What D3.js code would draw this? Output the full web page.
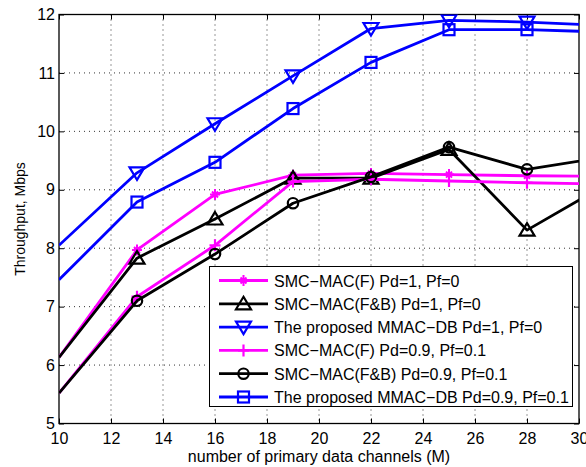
<!DOCTYPE html>
<html>
<head>
<meta charset="utf-8">
<script src="https://cdn.jsdelivr.net/npm/d3@7"></script>
<style>
  body { margin: 0; background: #fff; }
  svg { display: block; font-family: "Liberation Sans", Arial, sans-serif; }
</style>
</head>
<body>
<svg id="chart" width="586" height="467"></svg>
<script>
// Number of primary data channels (M)
const channels = [10, 13, 16, 19, 22, 25, 28, 31];

// Throughput (Mbps) for each scheme
const smcF_pd1      = [6.13, 7.97, 8.92, 9.25, 9.28, 9.26, 9.24, 9.23];
const smcFB_pd1     = [6.13, 7.83, 8.50, 9.20, 9.20, 9.69, 8.31, 9.08];
const mmacDB_pd1    = [8.05, 9.29, 10.13, 10.95, 11.76, 11.90, 11.87, 11.81];
const smcF_pd09     = [5.52, 7.17, 8.05, 9.14, 9.18, 9.15, 9.12, 9.10];
const smcFB_pd09    = [5.52, 7.10, 7.90, 8.77, 9.22, 9.73, 9.35, 9.56];
const mmacDB_pd09   = [7.46, 8.79, 9.47, 10.39, 11.18, 11.74, 11.74, 11.70];

const seriesNames = [
  "SMC\u2212MAC(F) Pd=1, Pf=0",
  "SMC\u2212MAC(F&B) Pd=1, Pf=0",
  "The proposed MMAC\u2212DB Pd=1, Pf=0",
  "SMC\u2212MAC(F) Pd=0.9, Pf=0.1",
  "SMC\u2212MAC(F&B) Pd=0.9, Pf=0.1",
  "The proposed MMAC\u2212DB Pd=0.9, Pf=0.1"
];
const seriesValues = [smcF_pd1, smcFB_pd1, mmacDB_pd1, smcF_pd09, smcFB_pd09, mmacDB_pd09];
const seriesColors = ["#ff00ff", "#000000", "#0000ff", "#ff00ff", "#000000", "#0000ff"];
const seriesMarkers = ["asterisk", "triangleUp", "triangleDown", "plus", "circle", "square"];

const xTicks = [10, 12, 14, 16, 18, 20, 22, 24, 26, 28, 30];
const yTicks = [5, 6, 7, 8, 9, 10, 11, 12];

const margin = { left: 59, top: 14.5, right: 579, bottom: 423.5 };
const svg = d3.select("#chart");

const x = d3.scaleLinear().domain([10, 30]).range([margin.left, margin.right]);
const y = d3.scaleLinear().domain([5, 12]).range([margin.bottom, margin.top]);

// clip region for the data
svg.append("defs").append("clipPath").attr("id", "plotClip")
  .append("rect")
  .attr("x", margin.left).attr("y", margin.top)
  .attr("width", margin.right - margin.left)
  .attr("height", margin.bottom - margin.top);

// dotted grid
const grid = svg.append("g");
grid.selectAll(".vg").data(xTicks.slice(1, -1)).join("line")
  .attr("x1", d => x(d)).attr("x2", d => x(d))
  .attr("y1", margin.top).attr("y2", margin.bottom)
  .attr("stroke", "#333").attr("stroke-width", 1).attr("stroke-dasharray", "1,4");
grid.selectAll(".hg").data(yTicks.slice(1, -1)).join("line")
  .attr("y1", d => y(d)).attr("y2", d => y(d))
  .attr("x1", margin.left).attr("x2", margin.right)
  .attr("stroke", "#333").attr("stroke-width", 1).attr("stroke-dasharray", "1,4");

// axes with inward ticks on all four sides
const tickLen = 5;
const fmt = d3.format("d");
const axB = svg.append("g").attr("transform", `translate(0,${margin.bottom})`)
  .call(d3.axisBottom(x).tickValues(xTicks).tickFormat(fmt).tickSizeInner(-tickLen).tickSizeOuter(0).tickPadding(9));
const axT = svg.append("g").attr("transform", `translate(0,${margin.top})`)
  .call(d3.axisTop(x).tickValues(xTicks).tickSizeInner(-tickLen).tickSizeOuter(0).tickFormat(""));
const axL = svg.append("g").attr("transform", `translate(${margin.left},0)`)
  .call(d3.axisLeft(y).tickValues(yTicks).tickFormat(fmt).tickSizeInner(-tickLen).tickSizeOuter(0).tickPadding(4));
const axR = svg.append("g").attr("transform", `translate(${margin.right},0)`)
  .call(d3.axisRight(y).tickValues(yTicks).tickSizeInner(-tickLen).tickSizeOuter(0).tickFormat(""));
[axB, axT, axL, axR].forEach(a => {
  a.select(".domain").remove();
  a.selectAll(".tick line").attr("stroke", "#000").attr("stroke-width", 1);
  a.selectAll("text").attr("fill", "#000").style("font-size", "16px")
    .style("font-family", "'Liberation Sans', Arial, sans-serif");
});

// frame
svg.append("rect")
  .attr("x", margin.left).attr("y", margin.top)
  .attr("width", margin.right - margin.left).attr("height", margin.bottom - margin.top)
  .attr("fill", "none").attr("stroke", "#000").attr("stroke-width", 1.3);

// marker drawing
function drawMarker(g, type, cx, cy, color) {
  if (type === "triangleUp") {
    g.append("path").attr("d", `M${cx},${cy - 7}L${cx + 7.5},${cy + 5.5}L${cx - 7.5},${cy + 5.5}Z`)
      .attr("fill", "none").attr("stroke", color).attr("stroke-width", 2.2);
  } else if (type === "triangleDown") {
    g.append("path").attr("d", `M${cx},${cy + 7}L${cx + 7.5},${cy - 5.5}L${cx - 7.5},${cy - 5.5}Z`)
      .attr("fill", "none").attr("stroke", color).attr("stroke-width", 2.2);
  } else if (type === "circle") {
    g.append("circle").attr("cx", cx).attr("cy", cy).attr("r", 5.2)
      .attr("fill", "none").attr("stroke", color).attr("stroke-width", 2.2);
  } else if (type === "square") {
    g.append("rect").attr("x", cx - 5.5).attr("y", cy - 5.5).attr("width", 11).attr("height", 11)
      .attr("fill", "none").attr("stroke", color).attr("stroke-width", 2.2);
  } else if (type === "plus") {
    g.append("path").attr("d", `M${cx - 5.5},${cy}H${cx + 5.5}M${cx},${cy - 6}V${cy + 6}`)
      .attr("stroke", color).attr("stroke-width", 2.2);
  } else if (type === "asterisk") {
    g.append("path").attr("d",
      `M${cx - 5},${cy}H${cx + 5}M${cx},${cy - 5.5}V${cy + 5.5}` +
      `M${cx - 3},${cy - 3}L${cx + 3},${cy + 3}M${cx - 3},${cy + 3}L${cx + 3},${cy - 3}`)
      .attr("stroke", color).attr("stroke-width", 2);
  }
}

// series lines; markers only inside the axis range
const plot = svg.append("g").attr("clip-path", "url(#plotClip)");
const line = d3.line().x(d => x(d[0])).y(d => y(d[1]));
const [xMin, xMax] = x.domain();
seriesValues.forEach((vals, i) => {
  const pts = channels.map((c, j) => [c, vals[j]]);
  const g = plot.append("g");
  g.append("path").attr("d", line(pts))
    .attr("fill", "none").attr("stroke", seriesColors[i]).attr("stroke-width", 2.8)
    .attr("stroke-linejoin", "round");
  pts.filter(p => p[0] > xMin && p[0] < xMax)
    .forEach(p => drawMarker(g, seriesMarkers[i], x(p[0]), y(p[1]), seriesColors[i]));
});

// axis titles
svg.append("text")
  .attr("x", (margin.left + margin.right) / 2).attr("y", 462)
  .attr("text-anchor", "middle").style("font-size", "16px").text("number of primary data channels (M)");
svg.append("text")
  .attr("transform", `translate(25,${(margin.top + margin.bottom) / 2}) rotate(-90)`)
  .attr("text-anchor", "middle").style("font-size", "14px").text("Throughput, Mbps");

// legend
const lg = svg.append("g");
lg.append("rect").attr("x", 209.5).attr("y", 266.5).attr("width", 363).attr("height", 140)
  .attr("fill", "#fff").attr("stroke", "#000").attr("stroke-width", 1);
seriesNames.forEach((name, i) => {
  const ry = 280.5 + i * 23.3;
  lg.append("line").attr("x1", 219).attr("x2", 268).attr("y1", ry).attr("y2", ry)
    .attr("stroke", seriesColors[i]).attr("stroke-width", 2.8);
  drawMarker(lg, seriesMarkers[i], 243.5, ry, seriesColors[i]);
  lg.append("text").attr("x", 274).attr("y", ry + 6).style("font-size", "16px").text(name);
});
</script>
</body>
</html>
